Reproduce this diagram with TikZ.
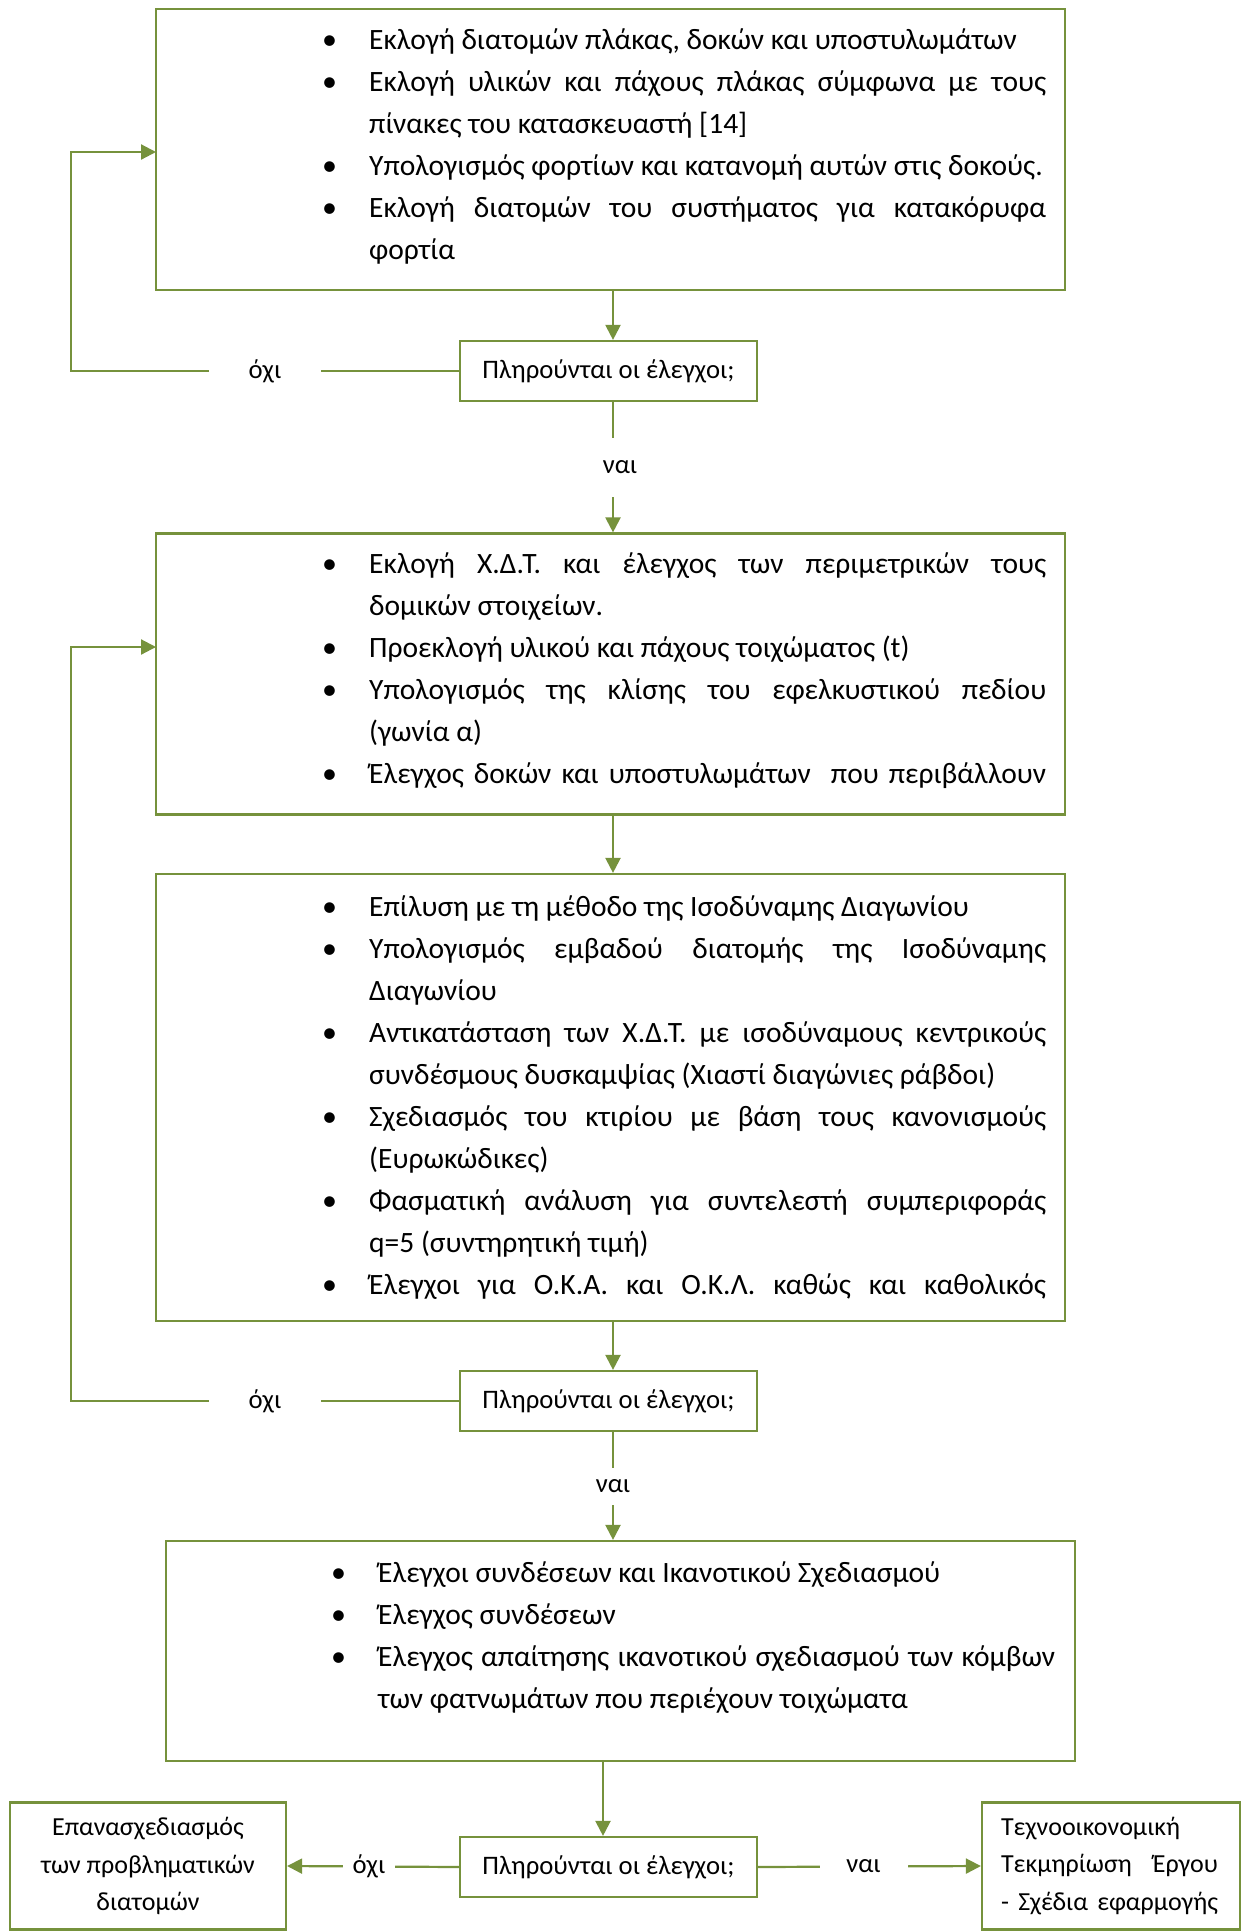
\documentclass[tikz,border=0pt]{standalone}
\usepackage{fontspec}
\setmainfont{Carlito}
\usetikzlibrary{arrows.meta}
\definecolor{olivegr}{RGB}{118,146,60}
\newcommand\bulletglyph{{\fontsize{30}{30}\selectfont\textbullet}}
\newcommand\firstbitem{\noindent\llap{\makebox[47pt][l]{\bulletglyph}}\strut}
\newcommand\bitem{\par\firstbitem}
\newcommand\fulljust{{\parfillskip=0pt\par}}
\tikzset{
  box/.style={draw=olivegr, line width=2.2pt, inner sep=0pt, rectangle},
  conn/.style={draw=olivegr, line width=2.2pt},
  arr/.style={conn, -{Triangle[length=15pt,width=15pt]}},
  lbl/.style={fill=white, inner sep=0pt, font=\fontsize{26.7}{32}\selectfont},
  txt/.style={inner sep=0pt, anchor=north west, text width=677pt, align=justify,
              font=\fontsize{29.5}{42}\selectfont},
  dec/.style={box, minimum width=297pt, minimum height=60pt, font=\fontsize{26.7}{32}\selectfont},
}
\begin{document}
\begin{tikzpicture}[x=1pt,y=-1pt]
\useasboundingbox (0,0) rectangle (1242,1931);
% main boxes
\node[box, minimum width=909pt, minimum height=281pt] (box1) at (610.5,149.5) {};
\node[box, minimum width=909pt, minimum height=281pt] (box2) at (610.5,674) {};
\node[box, minimum width=909pt, minimum height=447pt] (box3) at (610.5,1097.5) {};
\node[box, minimum width=909pt, minimum height=220pt] (box4) at (620.5,1651) {};
% decisions
\node[dec] (dec1) at (608.5,371) {Πληρούνται οι έλεγχοι;};
\node[dec] (dec2) at (608.5,1401) {Πληρούνται οι έλεγχοι;};
\node[dec] (dec3) at (608.5,1867) {Πληρούνται οι έλεγχοι;};
% end boxes
\node[box, minimum width=276pt, minimum height=127pt, align=center,
      font=\fontsize{26}{37.5}\selectfont] (redo) at (148,1866)
  {Επανασχεδιασμός\\των προβληματικών\\διατομών};
\node[box, minimum width=258pt, minimum height=127pt, text width=220pt, align=left,
      font=\fontsize{26}{37.5}\selectfont] (doc) at (1111,1866)
  {Τεχνοοικονομική\\\makebox[217pt]{Τεκμηρίωση\hfill Έργου}\\\makebox[217pt]{-\hfill Σχέδια\hfill εφαρμογής}};
% texts
\node[txt] (t1) at (369,19.9) {%
\firstbitem Εκλογή διατομών πλάκας, δοκών και υποστυλωμάτων
\bitem Εκλογή υλικών και πάχους πλάκας σύμφωνα με τους \linebreak πίνακες του κατασκευαστή [14]
\bitem Υπολογισμός φορτίων και κατανομή αυτών στις δοκούς.
\bitem Εκλογή διατομών του συστήματος για κατακόρυφα \linebreak φορτία\par};
\node[txt] (t2) at (369,543.6) {%
\firstbitem Εκλογή Χ.Δ.Τ. και έλεγχος των περιμετρικών τους \linebreak δομικών στοιχείων.
\bitem Προεκλογή υλικού και πάχους τοιχώματος (t)
\bitem Υπολογισμός της κλίσης του εφελκυστικού πεδίου \linebreak (γωνία α)
\bitem Έλεγχος δοκών και υποστυλωμάτων\ \ που περιβάλλουν\fulljust};
\node[txt] (t3) at (369,886.6) {%
\firstbitem Επίλυση με τη μέθοδο της Ισοδύναμης Διαγωνίου
\bitem Υπολογισμός εμβαδού διατομής της Ισοδύναμης \linebreak Διαγωνίου
\bitem Αντικατάσταση των Χ.Δ.Τ. με ισοδύναμους κεντρικούς \linebreak συνδέσμους δυσκαμψίας (Χιαστί διαγώνιες ράβδοι)
\bitem Σχεδιασμός του κτιρίου με βάση τους κανονισμούς \linebreak (Ευρωκώδικες)
\bitem Φασματική ανάλυση για συντελεστή συμπεριφοράς \linebreak q=5 (συντηρητική τιμή)
\bitem Έλεγχοι για Ο.Κ.Α. και Ο.Κ.Λ. καθώς και καθολικός\fulljust};
\node[txt] (t4) at (378,1552.6) {%
\firstbitem Έλεγχοι συνδέσεων και Ικανοτικού Σχεδιασμού
\bitem Έλεγχος συνδέσεων
\bitem Έλεγχος απαίτησης ικανοτικού σχεδιασμού των κόμβων \linebreak των φατνωμάτων που περιέχουν τοιχώματα\par};
% helper coordinates
\coordinate (ax) at (613,0);
\coordinate (ax2) at (603,0);
\coordinate (loopx) at (71,0);
\coordinate (in1) at (156,152);
\coordinate (in2) at (156,647);
% connectors
\draw[arr] (ax |- box1.south) -- (ax |- dec1.north);
\draw[arr] (ax |- dec1.south) -- node[lbl, minimum height=59pt, xshift=7pt] (nai1) {ναι} (ax |- box2.north);
\draw[arr] (ax |- box2.south) -- (ax |- box3.north);
\draw[arr] (ax |- box3.south) -- (ax |- dec2.north);
\draw[arr] (ax |- dec2.south) -- node[lbl, minimum height=37pt] (nai2) {ναι} (ax |- box4.north);
\draw[arr] (ax2 |- box4.south) -- (ax2 |- dec3.north);
\draw[arr] (dec1.west) -- node[lbl, minimum width=112pt] (oxi1) {όχι} (dec1.west -| loopx) |- (in1);
\draw[arr] (dec2.west) -- node[lbl, minimum width=112pt] (oxi2) {όχι} (dec2.west -| loopx) |- (in2);
\draw[arr] (dec3.west) -- node[lbl, minimum width=52pt, xshift=-4pt] (oxi3) {όχι} (redo.east);
\draw[arr] (dec3.east) -- node[lbl, minimum width=88pt, xshift=-6pt] (nai3) {ναι} (doc.west);
\end{tikzpicture}
\end{document}
